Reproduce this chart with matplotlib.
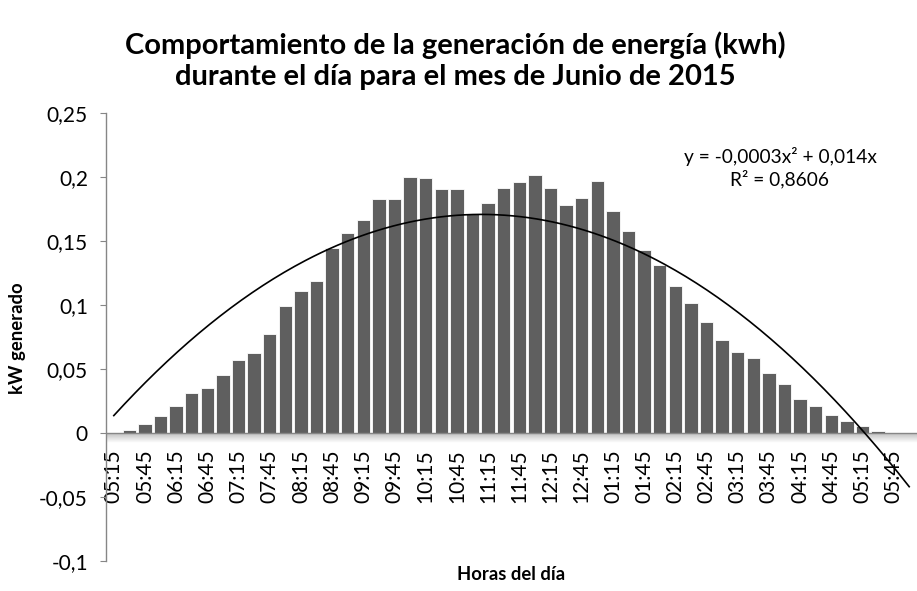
import matplotlib
matplotlib.use('Agg')
import matplotlib.pyplot as plt
import numpy as np
from matplotlib.ticker import FuncFormatter

plt.rcParams['font.family'] = ['Lato', 'DejaVu Sans']

# quarter-hour slots of the day (12h clock, as in the original sheet)
TIMES = ['05:15', '05:30', '05:45', '06:00', '06:15', '06:30', '06:45', '07:00',
         '07:15', '07:30', '07:45', '08:00', '08:15', '08:30', '08:45', '09:00',
         '09:15', '09:30', '09:45', '10:00', '10:15', '10:30', '10:45', '11:00',
         '11:15', '11:30', '11:45', '12:00', '12:15', '12:30', '12:45', '01:00',
         '01:15', '01:30', '01:45', '02:00', '02:15', '02:30', '02:45', '03:00',
         '03:15', '03:30', '03:45', '04:00', '04:15', '04:30', '04:45', '05:00',
         '05:15', '05:30', '05:45', '06:00']

KW = [0.0, 0.0025, 0.0072, 0.0131, 0.0212, 0.0313, 0.0352, 0.0456,
      0.0573, 0.0622, 0.0773, 0.0992, 0.1111, 0.1189, 0.1444, 0.1561,
      0.1662, 0.1826, 0.1826, 0.2000, 0.1995, 0.1906, 0.1906, 0.1709,
      0.1797, 0.1914, 0.1959, 0.2016, 0.1912, 0.1782, 0.1834, 0.1967,
      0.1733, 0.1579, 0.1433, 0.1314, 0.1145, 0.1015, 0.0867, 0.0727,
      0.0636, 0.0586, 0.0469, 0.0384, 0.0269, 0.0214, 0.0139, 0.0097,
      0.0058, 0.0019, 0.0, 0.0]

Y_TICKS = [-0.1, -0.05, 0, 0.05, 0.1, 0.15, 0.2, 0.25]

TITLE = ('Comportamiento de la generación de energía (kwh)\n'
         'durante el día para el mes de Junio de 2015')
EQUATION = 'y = -0,0003x² + 0,014x'
R2_TEXT = 'R² = 0,8606'

BAR_CLR = '#5f5f5f'
AXIS_CLR = '#868686'


def trend_coeffs(ys):
    # polynomial trendline of order 2, intercept forced to zero (like excel shows)
    xs = np.arange(1, len(ys) + 1)
    a_mat = np.column_stack([xs ** 2, xs])
    coef, *_ = np.linalg.lstsq(a_mat, np.asarray(ys), rcond=None)
    return coef


def comma_fmt(v, _pos):
    if abs(v) < 1e-9:
        return '0'
    return f'{v:g}'.replace('.', ',')


def main():
    fig = plt.figure(figsize=(9.17, 5.91), dpi=100)
    ax = fig.add_axes([106 / 917, 30 / 591, 811 / 917, 448 / 591])

    pos = np.arange(len(KW))
    ax.bar(pos, KW, width=0.86, color=BAR_CLR, edgecolor='white', linewidth=0.6, zorder=2)

    # soft shadow under the category axis
    grad = np.zeros((20, 2, 4))
    grad[..., :3] = 0.55
    grad[..., 3] = np.linspace(0.55, 0.0, 20)[:, None]
    ax.imshow(grad, extent=[-0.5, len(KW) - 0.5, -0.0075, 0], aspect='auto',
              interpolation='bilinear', zorder=1)
    ax.axhline(0, color=AXIS_CLR, lw=1.0, zorder=3)

    a, b = trend_coeffs(KW)
    xs = np.linspace(1, len(KW), 300)
    ax.plot(xs - 1, a * xs ** 2 + b * xs, color='black', lw=1.2, zorder=4, clip_on=False)

    ax.set_xlim(-0.5, len(KW) - 0.5)
    ax.set_ylim(-0.1, 0.25)
    ax.set_yticks(Y_TICKS)
    ax.yaxis.set_major_formatter(FuncFormatter(comma_fmt))

    ax.spines['bottom'].set_position(('data', 0))
    ax.spines['bottom'].set_visible(False)
    ax.spines['top'].set_visible(False)
    ax.spines['right'].set_visible(False)
    ax.spines['left'].set_color(AXIS_CLR)
    ax.spines['left'].set_linewidth(1.0)

    ax.set_xticks(pos[::2])
    ax.set_xticklabels(TIMES[::2], rotation=90, fontsize=15)
    ax.tick_params(axis='x', length=0, pad=12)
    ax.tick_params(axis='y', length=4, color=AXIS_CLR, labelsize=15, pad=9)

    fig.text(0.497, 1 - 61 / 591, TITLE, ha='center', va='center', fontsize=21,
             fontweight='bold', linespacing=1.25)
    fig.text(18 / 917, 1 - 338 / 591, 'kW generado', rotation=90, ha='center',
             va='center', fontsize=13.3, fontweight='bold')
    fig.text(511 / 917, 1 - 575 / 591, 'Horas del día', ha='center', va='center',
             fontsize=13.3, fontweight='bold')
    fig.text(780 / 917, 1 - 157 / 591, EQUATION, ha='center', va='center', fontsize=13.8)
    fig.text(780 / 917, 1 - 179 / 591, R2_TEXT, ha='center', va='center', fontsize=13.8)

    fig.savefig('out.png', dpi=100)


if __name__ == '__main__':
    main()
